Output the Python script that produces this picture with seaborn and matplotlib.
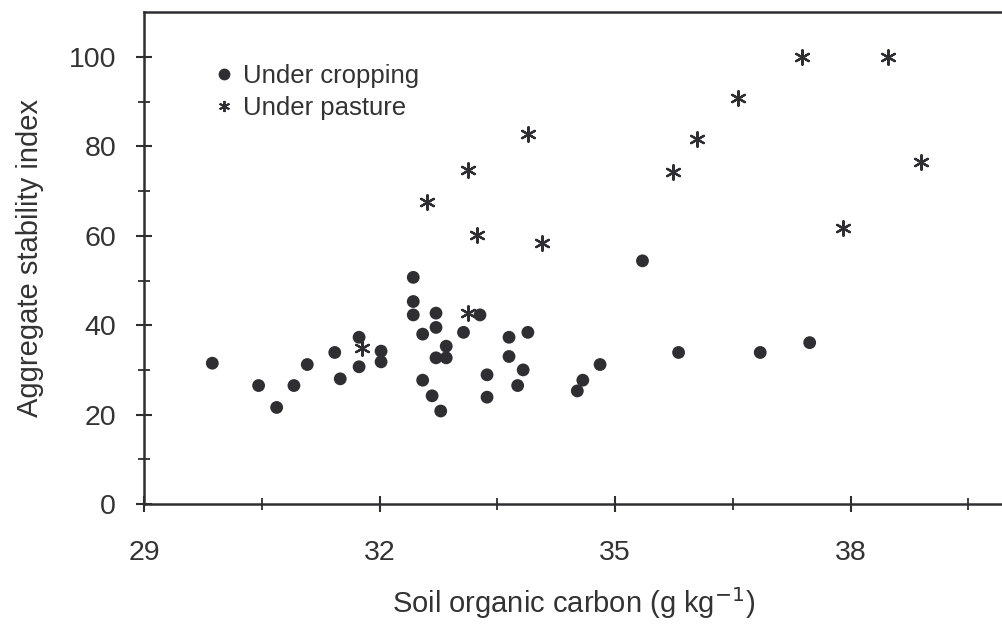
import matplotlib
matplotlib.use("Agg")
import matplotlib.pyplot as plt
import seaborn as sns
import pandas as pd
from matplotlib.lines import Line2D

# Data
crop_soc = [29.87, 30.46, 30.69, 30.91, 31.08, 31.43, 31.50, 31.74, 31.74, 32.02,
            32.02, 32.43, 32.43, 32.43, 32.55, 32.55, 32.72, 32.72, 32.67, 32.72,
            32.85, 32.85, 32.78, 33.07, 33.28, 33.37, 33.37, 33.65, 33.65, 33.83,
            33.76, 33.89, 34.52, 34.59, 34.81, 35.35, 35.81, 36.85, 37.48]
crop_asi = [31.5, 26.5, 21.6, 26.5, 31.2, 33.9, 28.0, 37.3, 30.7, 34.2,
            31.8, 50.7, 45.3, 42.3, 38.0, 27.7, 42.7, 39.5, 24.2, 32.7,
            35.3, 32.7, 20.8, 38.4, 42.3, 28.9, 23.9, 37.3, 33.0, 30.0,
            26.5, 38.4, 25.3, 27.7, 31.2, 54.4, 33.9, 33.9, 36.1]
past_soc = [31.78, 32.61, 33.13, 33.24, 33.89, 34.07, 33.13, 35.74, 36.04, 36.57,
            37.38, 37.90, 38.48, 38.90]
past_asi = [35.0, 67.5, 74.7, 60.2, 82.7, 58.5, 42.7, 74.3, 81.6, 90.8,
            100.0, 61.7, 100.0, 76.6]
xticks = [29, 32, 35, 38]
yticks = [0, 20, 40, 60, 80, 100]
labels = ["Under cropping", "Under pasture"]

sns.set_theme(style="ticks")
plt.rcParams['font.family'] = ['Liberation Sans', 'DejaVu Sans']

dark = "#2e2e33"
txt = "#333333"

crop = pd.DataFrame({"soc": crop_soc, "asi": crop_asi})
past = pd.DataFrame({"soc": past_soc, "asi": past_asi})

fig = plt.figure(figsize=(10.03, 6.28), dpi=100)
ax = fig.add_axes([144/1003, 1 - 504/628, 859/1003, (504 - 12.3)/628])

sns.scatterplot(data=crop, x="soc", y="asi", ax=ax, marker="o", s=85,
                color=dark, edgecolor="none", linewidth=0, zorder=3)
sns.scatterplot(data=past, x="soc", y="asi", ax=ax, marker=(6, 2, 0), s=110,
                color=dark, linewidth=1.6, zorder=4)

ax.set_xlim(29, 29 + 859/78.5)
ax.set_ylim(0, 110)
ax.set_xticks(xticks)
ax.set_xticks([30.5, 33.5, 36.5, 39.5], minor=True)
ax.set_yticks(yticks)
ax.set_yticks([10, 30, 50, 70, 90], minor=True)
ax.tick_params(axis="both", which="major", direction="inout", length=12, width=1.5,
               color=dark, labelsize=20.5, labelcolor=txt)
ax.tick_params(axis="both", which="minor", direction="inout", length=9, width=1.3,
               color=dark)
ax.tick_params(axis="x", which="major", pad=20)
ax.tick_params(axis="y", which="major", pad=14)

for side in ["left", "bottom", "top"]:
    ax.spines[side].set_color(dark)
    ax.spines[side].set_linewidth(1.8)
ax.spines["right"].set_visible(False)

ax.set_xlabel("Soil organic carbon (g kg$^{-1}$)", fontsize=21, color=txt, labelpad=14)
ax.set_ylabel("Aggregate stability index", fontsize=21, color=txt, labelpad=18)

handles = [Line2D([], [], linestyle="none", marker="o", markersize=8.5, color=dark,
                  markeredgewidth=0),
           Line2D([], [], linestyle="none", marker=(6, 2, 0), markersize=8, color=dark,
                  markeredgewidth=1.4)]
leg = ax.legend(handles, labels, loc="upper left", bbox_to_anchor=(0.072, 0.915),
                frameon=False, fontsize=18.5, handlelength=0.6, handletextpad=0.45,
                labelspacing=0.3, borderaxespad=0)
for t in leg.get_texts():
    t.set_color(txt)

fig.savefig("out.png", dpi=100)
